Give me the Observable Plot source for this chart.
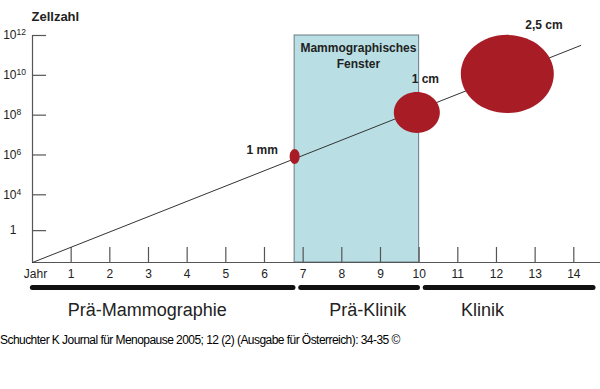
<!DOCTYPE html>
<html>
<head>
<meta charset="utf-8">
<script src="https://cdn.jsdelivr.net/npm/d3@7"></script>
<script src="https://cdn.jsdelivr.net/npm/@observablehq/plot@0.6"></script>
<style>
  body { margin: 0; background: #fff; font-family: "Liberation Sans", Arial, sans-serif; }
  #caption { font-size: 12px; letter-spacing: -0.55px; line-height: 20px; color: #000; padding-left: 0; white-space: nowrap; }
</style>
</head>
<body>
<div id="chart"></div>
<div id="caption">Schuchter K Journal für Menopause 2005; 12 (2) (Ausgabe für Österreich): 34-35 ©</div>
<script>
// ---- data ----
const years = [1, 2, 3, 4, 5, 6, 7, 8, 9, 10, 11, 12, 13, 14];
const yBase = 0.6;                 // baseline level of the schematic y axis (exponent units)
const yTop = 12;
const yTickPos = [2.2, 4, 6, 8, 10, 12];
const yTickBase = ["1", "10", "10", "10", "10", "10"];
const yTickExp = ["", "4", "6", "8", "10", "12"];
const axisEndYear = 14.69;

const growthYear = [0, 14.18];
const growthExp = [0.6, 11.5];

const windowYears = [6.78, 10];
const windowLabel = "Mammographisches\nFenster";
const windowLabelYear = 8.43;
const windowLabelExp = 11.03;

const tumorLabels = ["1 mm", "1 cm", "2,5 cm"];
const tumorYear = [6.78, 9.94, 12.28];
const tumorExp = [5.92, 8.13, 10.07];
const tumorLabelYear = [5.94, 10.16, 13.23];
const tumorLabelExp = [6.22, 9.79, 12.5];

const phases = ["Prä-Mammographie", "Prä-Klinik", "Klinik"];
const phaseStart = [0.01, 6.95, 10.17];
const phaseEnd = [6.75, 9.97, 14.51];
const phaseLabelYear = [2.97, 8.67, 11.64];

// ---- helpers ----
function ellipseSymbol(ax, ay) {
  return {
    draw(context, size) {
      const r = Math.sqrt(size / Math.PI);
      const rx = r * ax, ry = r * ay, k = 0.5523;
      context.moveTo(rx, 0);
      context.bezierCurveTo(rx, ry * k, rx * k, ry, 0, ry);
      context.bezierCurveTo(-rx * k, ry, -rx, ry * k, -rx, 0);
      context.bezierCurveTo(-rx, -ry * k, -rx * k, -ry, 0, -ry);
      context.bezierCurveTo(rx * k, -ry, rx, -ry * k, rx, 0);
      context.closePath();
    }
  };
}

const growth = growthYear.map((x, i) => ({x, y: growthExp[i]}));
const tumors = tumorLabels.map((t, i) => ({t, x: tumorYear[i], y: tumorExp[i], lx: tumorLabelYear[i], ly: tumorLabelExp[i]}));
const phaseRows = phases.map((p, i) => ({p, x1: phaseStart[i], x2: phaseEnd[i], lx: phaseLabelYear[i]}));
const yTicks = yTickPos.map((y, i) => ({y, b: yTickBase[i], e: yTickExp[i]}));

const axisColor = "#555";
const red = "#a71c25";
const font = "Liberation Sans, Arial, sans-serif";

const chart = Plot.plot({
  width: 600,
  height: 330,
  marginLeft: 32,
  marginRight: 26.7,
  marginTop: 35,
  marginBottom: 68,
  x: {domain: [0, 14], axis: null},
  y: {domain: [yBase, yTop], axis: null},
  style: {fontFamily: font, background: "#fff", overflow: "visible"},
  marks: [
    // mammographic window
    Plot.rect([windowYears], {x1: d => d[0], x2: d => d[1], y1: yBase, y2: yTop, fill: "#b9dfe5", stroke: "#6b7b80", strokeWidth: 1}),
    // axes
    Plot.ruleX([0], {y1: yBase, y2: yTop, stroke: axisColor, strokeWidth: 1.2}),
    Plot.ruleY([yBase], {x1: 0, x2: axisEndYear, stroke: axisColor, strokeWidth: 1.2}),
    Plot.ruleY(yTicks, {y: "y", x1: 0, x2: 0, insetRight: -14, stroke: axisColor, strokeWidth: 1.2}),
    Plot.ruleX(years, {x: d => d, y1: yBase, y2: yBase, insetBottom: 15, stroke: axisColor, strokeWidth: 1.2}),
    // tick labels
    Plot.text(yTicks, {y: "y", frameAnchor: "left", dx: -16, textAnchor: "end", text: "b", fontSize: 12, fill: "#222"}),
    Plot.text(yTicks, {y: "y", frameAnchor: "left", dx: -16, dy: -3, textAnchor: "start", text: "e", fontSize: 8.5, fill: "#222"}),
    Plot.text(years, {x: d => d, y: yBase, dy: 12, text: d => String(d), fontSize: 12, fill: "#222"}),
    Plot.text(["Jahr"], {x: 0, y: yBase, dy: 12, dx: 3, text: d => d, fontSize: 12, fill: "#222"}),
    Plot.text(["Zellzahl"], {x: 0, y: yTop, dy: -19, dx: -1, textAnchor: "start", text: d => d, fontSize: 13, fontWeight: "bold", fill: "#222"}),
    // growth line
    Plot.line(growth, {x: "x", y: "y", stroke: "#333", strokeWidth: 1}),
    // tumours
    Plot.dot([tumors[0]], {x: "x", y: "y", r: 5, symbol: ellipseSymbol(1, 1.5), fill: red, stroke: "none"}),
    Plot.dot([tumors[1]], {x: "x", y: "y", r: 23, symbol: ellipseSymbol(1, 0.89), fill: red, stroke: "none"}),
    Plot.dot([tumors[2]], {x: "x", y: "y", r: 46.5, symbol: ellipseSymbol(1, 0.84), fill: red, stroke: "none"}),
    Plot.text(tumors, {x: "lx", y: "ly", text: "t", fontSize: 12, fontWeight: "bold", fill: "#222"}),
    Plot.text([windowLabel], {x: windowLabelYear, y: windowLabelExp, text: d => d, fontSize: 12, fontWeight: "bold", lineHeight: 1.39, fill: "#222"}),
    // phases
    Plot.ruleY(phaseRows, {x1: "x1", x2: "x2", y: yBase, dy: 25, stroke: "#111", strokeWidth: 5, strokeLinecap: "round"}),
    Plot.text(phaseRows, {x: "lx", y: yBase, dy: 48, text: "p", fontSize: 18, fill: "#222"})
  ]
});
document.getElementById("chart").appendChild(chart);
</script>
</body>
</html>
